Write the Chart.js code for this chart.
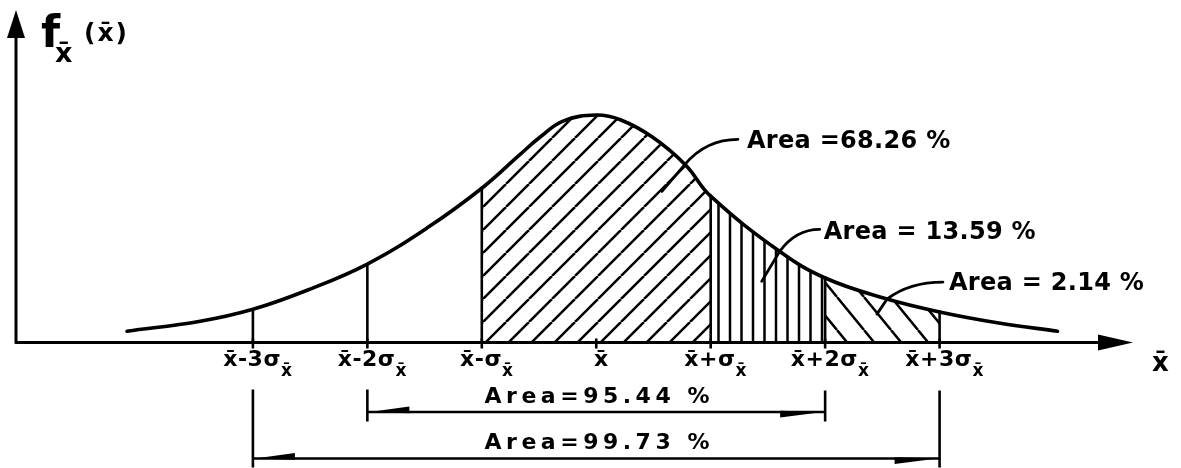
<!DOCTYPE html>
<html>
<head>
<meta charset="utf-8">
<script src="https://cdn.jsdelivr.net/npm/chart.js@4.4.0/dist/chart.umd.min.js"></script>
<style>
html, body { margin: 0; padding: 0; background: #fff; }
#wrap { width: 1181px; height: 468px; position: relative; }
</style>
</head>
<body>
<div id="wrap"><canvas id="normal-chart"></canvas></div>
<script>
// curve: x in sigma units from the mean, y = density
var curveX = [-4.1, -3.46, -3, -2.52, -2, -1.48, -1, -0.67, -0.49, -0.29, 0, 0.21, 0.49, 0.78, 1, 1.61, 2, 2.51, 3, 3.53, 4.03];
var curveY = [0.017, 0.032, 0.050, 0.079, 0.118, 0.172, 0.232, 0.282, 0.309, 0.333, 0.342, 0.335, 0.309, 0.267, 0.220, 0.136, 0.097, 0.067, 0.046, 0.029, 0.017];

var bounds = [-3, -2, -1, 1, 2, 3];
var tickValues = [-3, -2, -1, 0, 1, 2, 3];
var tickLabels = ['x\u0304-3\u03c3', 'x\u0304-2\u03c3', 'x\u0304-\u03c3', 'x\u0304', 'x\u0304+\u03c3', 'x\u0304+2\u03c3', 'x\u0304+3\u03c3'];
var tickSubs = ['x\u0304', 'x\u0304', 'x\u0304', '', 'x\u0304', 'x\u0304', 'x\u0304'];

var areaLabels = ['Area =68.26 %', 'Area = 13.59 %', 'Area = 2.14 %'];
var areaAt = [0.775, 1.603, 2.54];   // where each leader crosses the curve

var rangeLabels = ['Area=95.44 %', 'Area=99.73 %'];
var rangeFrom = [-2, -3];
var rangeTo = [2, 3];

// leader shapes in px: tail offset, end offset, text offset (from end)
var leaders = [
    {tail: [-23, 27], end: [53, -25], text: [9, 2]},
    {tail: [-18, 30], end: [40, -22], text: [4, 3]},
    {tail: [-10, 15], end: [56, -17], text: [6, 2]}
];

var canvas = document.getElementById('normal-chart');
var ctx = canvas.getContext('2d');

var makePattern = function(w, h, kind) {
    var c = document.createElement('canvas');
    c.width = w;
    c.height = h;
    var g = c.getContext('2d');
    g.strokeStyle = '#000';
    g.lineWidth = 2.5;
    g.beginPath();
    if (kind === 'up') {
        for (var k = -1; k <= 1; k++) { g.moveTo(k * w, h); g.lineTo(k * w + w, 0); }
    } else if (kind === 'down') {
        for (var k = -1; k <= 1; k++) { g.moveTo(k * w, 0); g.lineTo(k * w + w, h); }
    } else {
        g.moveTo(5.5, 0); g.lineTo(5.5, h);
        g.moveTo(17, 0); g.lineTo(17, h);
    }
    g.stroke();
    return ctx.createPattern(c, 'repeat');
};

var hatchUp = makePattern(23, 23, 'up');
var hatchVert = makePattern(23, 10, 'vert');
var hatchDown = makePattern(27, 33, 'down');

var hatchFor = function(a, b) {
    if (a >= -1 && b <= 1) return hatchUp;
    if (a >= 1 && b <= 2) return hatchVert;
    if (a >= 2 && b <= 3) return hatchDown;
    return 'rgba(0,0,0,0)';
};

var curvePoints = curveX.map(function(x, i) { return {x: x, y: curveY[i]}; });

var datasets = [{
    data: curvePoints,
    borderColor: '#000',
    borderWidth: 3.6,
    borderCapStyle: 'round',
    backgroundColor: 'rgba(0,0,0,0)',
    fill: 'origin',
    pointRadius: 0,
    tension: 0.4,
    order: 0,
    segment: {
        backgroundColor: function(c) { return hatchFor(c.p0.parsed.x, c.p1.parsed.x); }
    }
}];

for (var b of bounds) {
    datasets.push({
        data: [{x: b, y: 0}, {x: b, y: curveY[curveX.indexOf(b)]}],
        borderColor: '#000',
        borderWidth: 2.6,
        pointRadius: 0,
        fill: false,
        order: 1
    });
}

var drawText = function(c, str, x, y, font, spacing) {
    c.font = font;
    c.letterSpacing = (spacing || 0) + 'px';
    c.fillText(str, x, y);
    c.letterSpacing = '0px';
};

var sketchPlugin = {
    id: 'sketch',
    afterDatasetsDraw: function(chart) {
        var c = chart.ctx;
        var xs = chart.scales.x;
        var ys = chart.scales.y;
        var area = chart.chartArea;
        var base = ys.getPixelForValue(0);
        var left = area.left;

        c.save();
        c.fillStyle = '#000';
        c.strokeStyle = '#000';
        c.lineCap = 'butt';

        // axes with arrows
        c.lineWidth = 3;
        c.beginPath();
        c.moveTo(left, base + 1);
        c.lineTo(left, area.top + 26);
        c.moveTo(left - 1, base);
        c.lineTo(area.right - 32, base);
        c.stroke();
        c.beginPath();
        c.moveTo(left, area.top);
        c.lineTo(left - 9, area.top + 28);
        c.lineTo(left + 9, area.top + 28);
        c.closePath();
        c.moveTo(area.right, base);
        c.lineTo(area.right - 35, base - 8);
        c.lineTo(area.right - 35, base + 8);
        c.closePath();
        c.fill();

        // small ticks
        c.lineWidth = 2.6;
        c.beginPath();
        for (var v of tickValues) {
            var px = xs.getPixelForValue(v);
            c.moveTo(px, base - 4);
            c.lineTo(px, base + 6);
        }
        c.stroke();

        // tick labels with subscripts
        c.textBaseline = 'alphabetic';
        c.textAlign = 'left';
        var mainFont = 'bold 22px "DejaVu Sans"';
        var subFont = 'bold 17px "DejaVu Sans"';
        tickValues.forEach(function(v, i) {
            c.font = mainFont;
            c.letterSpacing = '0.5px';
            var w1 = c.measureText(tickLabels[i]).width;
            c.font = subFont;
            var w2 = tickSubs[i] ? c.measureText(tickSubs[i]).width : 0;
            var x0 = xs.getPixelForValue(v) + 5 - (w1 + w2) / 2;
            drawText(c, tickLabels[i], x0, base + 23, mainFont, 0.5);
            if (tickSubs[i]) drawText(c, tickSubs[i], x0 + w1, base + 33, subFont, 0.5);
        });

        // axis titles
        drawText(c, 'f', left + 25, area.top + 37, 'bold 44px "DejaVu Sans"', 0);
        drawText(c, 'x\u0304', left + 39, area.top + 52, 'bold 27px "DejaVu Sans"', 0);
        drawText(c, '(x\u0304)', left + 68, area.top + 31, 'bold 25px "DejaVu Sans"', 2);
        drawText(c, 'x\u0304', area.right + 19, base + 28, 'bold 26px "DejaVu Sans"', 0);

        // leaders and area labels
        var line = chart.getDatasetMeta(0).dataset;
        c.lineWidth = 2.8;
        c.lineCap = 'round';
        c.textBaseline = 'middle';
        areaLabels.forEach(function(txt, i) {
            var px = xs.getPixelForValue(areaAt[i]);
            var pt = line.interpolate({x: px}, 'x');
            if (Array.isArray(pt)) pt = pt[0];
            var L = leaders[i];
            var ex = pt.x + L.end[0], ey = pt.y + L.end[1];
            c.beginPath();
            c.moveTo(pt.x + L.tail[0], pt.y + L.tail[1]);
            c.lineTo(pt.x, pt.y);
            c.quadraticCurveTo(pt.x + 0.4 * L.end[0], ey, ex, ey);
            c.stroke();
            drawText(c, txt, ex + L.text[0], ey + L.text[1], 'bold 24px "DejaVu Sans"', 0.3);
        });

        // range brackets below the axis
        var rows = [69.5, 116];
        var ends = [79, 125];
        c.lineCap = 'butt';
        rangeLabels.forEach(function(txt, i) {
            var x1 = xs.getPixelForValue(rangeFrom[i]);
            var x2 = xs.getPixelForValue(rangeTo[i]);
            var y = base + rows[i];
            c.lineWidth = 2.6;
            c.beginPath();
            c.moveTo(x1, base + 47);
            c.lineTo(x1, base + ends[i]);
            c.moveTo(x2, base + 48);
            c.lineTo(x2, base + ends[i]);
            c.moveTo(x1, y);
            c.lineTo(x2, y);
            c.stroke();
            // half arrow heads
            c.beginPath();
            c.moveTo(x1 + 2, y);
            c.lineTo(x1 + 42, y - 5.5);
            c.lineTo(x1 + 42, y + 1.3);
            c.closePath();
            c.moveTo(x2 - 2, y);
            c.lineTo(x2 - 45, y + 5.5);
            c.lineTo(x2 - 45, y - 1.3);
            c.closePath();
            c.fill();
            c.textAlign = 'center';
            drawText(c, txt, (x1 + x2) / 2 + 3, y - 15, 'bold 22px "DejaVu Sans"', 4.5);
            c.textAlign = 'left';
        });
        c.restore();
    }
};

new Chart(ctx, {
    type: 'line',
    data: { datasets: datasets },
    options: {
        responsive: true,
        maintainAspectRatio: false,
        animation: false,
        layout: { padding: { left: 16, right: 48, top: 10, bottom: 125.5 } },
        plugins: { legend: { display: false }, tooltip: { enabled: false } },
        scales: {
            x: { type: 'linear', min: -5.07, max: 4.69, display: false },
            y: { min: 0, max: 0.5, display: false }
        }
    },
    plugins: [sketchPlugin]
});
</script>
</body>
</html>
